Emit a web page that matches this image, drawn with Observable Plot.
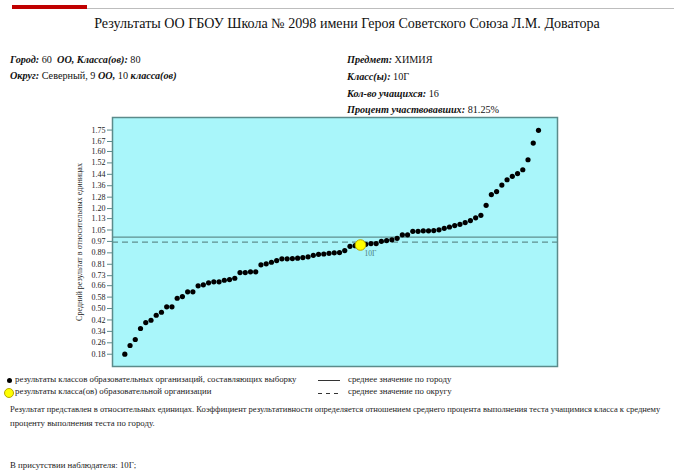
<!DOCTYPE html>
<html>
<head>
<meta charset="utf-8">
<script src="https://cdn.jsdelivr.net/npm/d3@7"></script>
<script src="https://cdn.jsdelivr.net/npm/@observablehq/plot@0.6"></script>
<style>
  body { margin: 0; background: #fff; }
  #page { position: relative; width: 674px; height: 473px; overflow: hidden; background: #fff; font-family: "Liberation Serif", serif; color: #111; }
  .abs { position: absolute; white-space: nowrap; }
  .info { font-size: 10.2px; }
  .info b { font-style: italic; }
  .small { font-size: 8.8px; color: #222; }
  #chart { position: absolute; left: 0; top: 110px; }
</style>
</head>
<body>
<div id="page">
  <div class="abs" style="left:12px;top:5px;width:75px;height:4px;background:#c00000;"></div>
  <div class="abs" style="left:87px;top:8px;width:587px;height:1px;background:#bdbdbd;"></div>
  <div class="abs" style="left:10px;width:674px;top:15px;text-align:center;font-size:14.1px;" id="title"></div>

  <div class="abs info" style="left:10px;top:54px;"><b>Город:</b> 60 &nbsp;<b>ОО, Класса(ов):</b> 80</div>
  <div class="abs info" style="left:10px;top:70px;"><b>Округ:</b> Северный, 9 <b>ОО,</b> 10 <b>класса(ов)</b></div>
  <div class="abs info" style="left:347px;top:54px;"><b>Предмет:</b> ХИМИЯ</div>
  <div class="abs info" style="left:347px;top:71px;"><b>Класс(ы):</b> 10Г</div>
  <div class="abs info" style="left:347px;top:88px;"><b>Кол-во учащихся:</b> 16</div>
  <div class="abs info" style="left:347px;top:104px;"><b>Процент участвовавших:</b> 81.25%</div>

  <div id="chart"></div>

  <div class="abs" style="left:7px;top:378px;width:5px;height:5px;border-radius:50%;background:#000;"></div>
  <div class="abs small" style="left:15px;top:374px;">результаты классов образовательных организаций, составляющих выборку</div>
  <div class="abs" style="left:4px;top:388px;width:8px;height:8px;border-radius:50%;background:#ffff00;border:1px solid #b5a800;"></div>
  <div class="abs small" style="left:15px;top:386px;">результаты класса(ов) образовательной организации</div>
  <div class="abs" style="left:318px;top:380px;width:22px;height:1px;background:#333;"></div>
  <div class="abs small" style="left:348px;top:374px;">среднее значение по городу</div>
  <div class="abs" style="left:318px;top:393px;width:22px;height:1px;background:repeating-linear-gradient(90deg,#333 0 4px,transparent 4px 8px);"></div>
  <div class="abs small" style="left:348px;top:386px;">среднее значение по округу</div>

  <div class="abs small" style="left:10px;top:404px;font-size:8.55px;">Результат представлен в относительных единицах. Коэффициент результативности определяется отношением среднего процента выполнения теста учащимися класса к среднему</div>
  <div class="abs small" style="left:10px;top:418px;">проценту выполнения теста по городу.</div>
  <div class="abs small" style="left:10px;top:460px;">В присутствии наблюдателя: 10Г;</div>
</div>
<script>
const titleText = "Результаты ОО ГБОУ Школа № 2098 имени Героя Советского Союза Л.М. Доватора";
const yAxisLabel = "Средний результат в относительных единицах";
const tickLabels = ["0.18","0.26","0.34","0.42","0.50","0.58","0.66","0.73","0.81","0.89","0.97","1.05","1.13","1.20","1.28","1.36","1.44","1.52","1.60","1.67","1.75"];
const classValues = [
  0.180, 0.241, 0.283, 0.360, 0.402, 0.418, 0.453, 0.474, 0.512, 0.512,
  0.572, 0.584, 0.617, 0.617, 0.659, 0.666, 0.680, 0.687, 0.687, 0.698,
  0.703, 0.712, 0.752, 0.752, 0.757, 0.757, 0.806, 0.813, 0.824, 0.836,
  0.848, 0.848, 0.850, 0.853, 0.857, 0.862, 0.873, 0.880, 0.882, 0.887,
  0.890, 0.892, 0.906, 0.936, 0.940, 0.945, 0.950, 0.955, 0.955, 0.971,
  0.976, 0.981, 0.992, 1.016, 1.016, 1.041, 1.041, 1.044, 1.044, 1.046,
  1.051, 1.062, 1.071, 1.081, 1.090, 1.102, 1.116, 1.135, 1.153, 1.223,
  1.298, 1.319, 1.365, 1.402, 1.426, 1.445, 1.472, 1.542, 1.659, 1.748
];
const schoolClassName = "10Г";
const schoolRank = 46;
const schoolValue = 0.945;
const cityMean = 1.0;
const districtMean = 0.965;

document.getElementById("title").textContent = titleText;

const classes = classValues.map((v, i) => ({rank: i + 1, value: v}));
const school = [{rank: schoolRank, value: schoolValue, name: schoolClassName}];
const tickValues = tickLabels.map(Number);

const chart = Plot.plot({
  width: 674,
  height: 260,
  marginLeft: 112,
  marginRight: 117,
  marginTop: 7,
  marginBottom: 4,
  x: {domain: [-1.35, 83.63], axis: null},
  y: {domain: [0.094, 1.838]},
  style: {fontFamily: "Liberation Serif", fontSize: "8.5px", background: "transparent", color: "#222"},
  marks: [
    Plot.frame({fill: "#a9f6fa", stroke: null}),
    Plot.axisY({
      ticks: tickValues,
      tickFormat: d => tickLabels[tickValues.indexOf(d)],
      tickSize: 5,
      tickPadding: 2,
      stroke: "#5b8b8b",
      label: yAxisLabel,
      labelAnchor: "center",
      labelArrow: "none",
      labelOffset: 36,
      fontSize: 8
    }),
    Plot.ruleY([cityMean], {stroke: "#5f8f8f", strokeWidth: 1.3}),
    Plot.ruleY([districtMean], {stroke: "#5f8f8f", strokeWidth: 1.2, strokeDasharray: "6,4"}),
    Plot.dot(classes, {x: "rank", y: "value", r: 2.6, fill: "#000", stroke: null}),
    Plot.dot(school, {x: "rank", y: "value", r: 5.3, fill: "#ffff00", stroke: "#b5a800", strokeWidth: 1}),
    Plot.text(school, {x: "rank", y: "value", text: "name", dx: 4, dy: 9, textAnchor: "start", fill: "#4a7a7a", fontSize: 7.5}),
    Plot.frame({stroke: "#5b8b8b", strokeWidth: 1.5})
  ]
});
document.getElementById("chart").appendChild(chart);
</script>
</body>
</html>
